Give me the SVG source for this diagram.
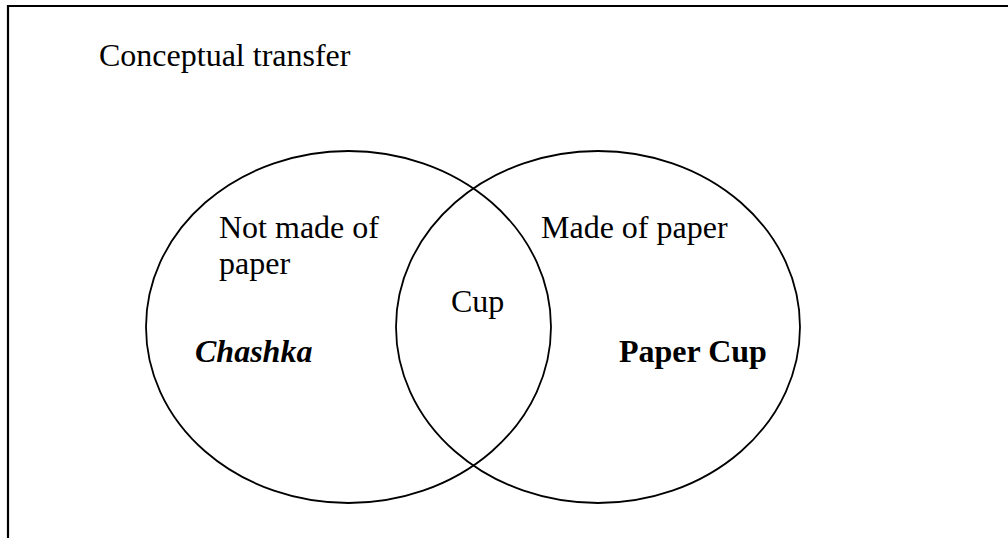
<svg xmlns="http://www.w3.org/2000/svg" width="1008" height="538" viewBox="0 0 1008 538">
<style>
.t{font-family:"Liberation Serif","Times New Roman",serif;font-size:32px;fill:#000}
.b{font-weight:bold}
.bi{font-weight:bold;font-style:italic}
.set{fill:none;stroke:#000;stroke-width:1.8}
.frame{stroke:#000;stroke-width:2.2;fill:none}
</style>
<rect width="1008" height="538" fill="#fff"/>
<g id="frame">
<path class="frame" d="M8 538 V6 H1008"/>
</g>
<g id="title"><text class="t" x="99" y="66">Conceptual transfer</text></g>
<g id="connectors"></g>
<g id="left-set">
<ellipse class="set" cx="348.5" cy="327" rx="202.5" ry="176"/>
<text class="t" x="219" y="238">Not made of</text>
<text class="t" x="219" y="274">paper</text>
<text class="t bi" x="195" y="362">Chashka</text>
</g>
<g id="right-set">
<ellipse class="set" cx="598" cy="327" rx="202" ry="176"/>
<text class="t" x="541" y="238">Made of paper</text>
<text class="t b" x="619" y="362">Paper Cup</text>
</g>
<g id="intersection">
<text class="t" x="451" y="312">Cup</text>
</g>
</svg>
